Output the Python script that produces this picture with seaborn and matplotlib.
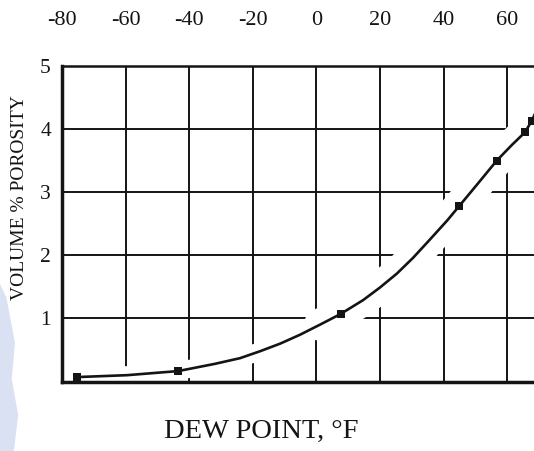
import matplotlib
matplotlib.use("Agg")
import matplotlib.pyplot as plt
import seaborn as sns
import pandas as pd
from matplotlib.patches import Polygon

# Measured points (dew point in °F, porosity in volume %)
dew_point_pts = [-75.3, -43.5, 7.6, 44.9, 56.7, 65.6, 67.7]
porosity_pts = [0.07, 0.165, 1.07, 2.78, 3.50, 3.95, 4.13]

# Hand-faired curve through the measurements
dew_point_curve = [-75.3, -59.6, -43.5, -31.9, -24.0, -17.7, -11.4, -5.2,
                   1.1, 7.6, 14.7, 20.0, 25.3, 30.4, 35.7, 41.1, 44.9,
                   50.5, 56.7, 61.5, 65.6, 67.7, 69.0]
porosity_curve = [0.07, 0.10, 0.165, 0.28, 0.37, 0.48, 0.60, 0.74,
                  0.90, 1.07, 1.29, 1.49, 1.71, 1.96, 2.25, 2.55, 2.78,
                  3.12, 3.50, 3.75, 3.95, 4.13, 4.27]

x_ticks = [-80, -60, -40, -20, 0, 20, 40, 60]
y_ticks = [1, 2, 3, 4, 5]

sns.set_style("white")
plt.rcParams["font.family"] = ["Liberation Serif", "DejaVu Serif"]

W, H = 534, 451
fig = plt.figure(figsize=(W / 100, H / 100), dpi=100)
left, right, top, bottom = 62, 545, 66, 381.5
ax = fig.add_axes([left / W, (H - bottom) / H, (right - left) / W, (bottom - top) / H])

px_per_deg = 3.18
ax.set_xlim(-80, -80 + (right - left) / px_per_deg)
ax.set_ylim(0, 5)

ink = "#141414"

# grid
for xv in x_ticks[1:]:
    ax.axvline(xv, color=ink, lw=1.4, zorder=1)
for yv in y_ticks[:-1]:
    ax.axhline(yv, color=ink, lw=1.4, zorder=1)

curve = pd.DataFrame({"dew": dew_point_curve, "por": porosity_curve})
steep = curve[curve["dew"] >= 0]
pts = pd.DataFrame({"dew": dew_point_pts, "por": porosity_pts})

# white clearance around the curve, breaking the grid lines
sns.lineplot(data=curve, x="dew", y="por", ax=ax, color="white", lw=13,
             solid_capstyle="round", sort=False, zorder=1.5)
sns.lineplot(data=steep, x="dew", y="por", ax=ax, color="white", lw=23,
             solid_capstyle="round", sort=False, zorder=1.5)
sns.lineplot(data=curve, x="dew", y="por", ax=ax, color=ink, lw=1.9,
             sort=False, zorder=3)
sns.scatterplot(data=pts, x="dew", y="por", ax=ax, color=ink, marker="s",
                s=36, edgecolor=ink, linewidth=0, zorder=4)

ax.set_xlabel("")
ax.set_ylabel("")

ax.xaxis.tick_top()
ax.set_xticks(x_ticks)
ax.set_xticklabels([str(v) for v in x_ticks])
ax.set_yticks(y_ticks)
ax.set_yticklabels([str(v) for v in y_ticks])
ax.tick_params(axis="x", length=0, pad=26, labelsize=16, colors=ink)
ax.tick_params(axis="y", length=0, pad=8, labelsize=15.5, colors=ink)

for side in ["left", "bottom"]:
    ax.spines[side].set_linewidth(2.5)
    ax.spines[side].set_color(ink)
    ax.spines[side].set_zorder(5)
ax.spines["top"].set_linewidth(1.8)
ax.spines["top"].set_color(ink)
ax.spines["top"].set_zorder(5)
ax.spines["right"].set_visible(False)

fig.text(261 / W, 1 - 431 / H, "DEW POINT, °F", ha="center", va="center",
         fontsize=20.5, color=ink)
fig.text(20 / W, 1 - 198 / H, "VOLUME % POROSITY", ha="center", va="center",
         rotation=90, fontsize=14, color=ink)

# faint blue smudge along the lower left edge of the scan
fig.patches.append(Polygon([(0, 0), (0, 0.37), (0.012, 0.34), (0.028, 0.24),
                            (0.022, 0.16), (0.034, 0.08), (0.026, 0.0)],
                           closed=True, transform=fig.transFigure,
                           facecolor="#cdd7ef", edgecolor="none", alpha=0.75,
                           zorder=0))

fig.savefig("out.png", dpi=100)
